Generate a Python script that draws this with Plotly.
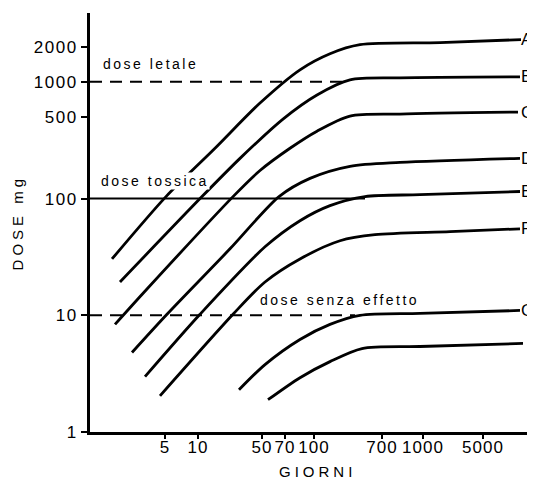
import math
import plotly.graph_objects as go

# ---- axis definitions (hand-drawn, non-uniform time scale) ----
X_TICK_POS = [75, 108, 172, 195, 224, 292, 333, 393]
X_TICK_LABELS = ["5", "10", "50", "70", "100", "700", "1000", "5000"]
Y_TICK_VALS = [1, 10, 100, 500, 1000, 2000]
Y_TICK_LABELS = ["1", "10", "100", "500", "1000", "2000"]

# ---- dose curves (x: position on the GIORNI scale, y: dose in mg) ----
A_X = [22, 76, 125, 170, 210, 240, 270, 350, 431]
A_Y = [30.4, 104, 270, 659, 1269, 1743, 2084, 2169, 2302]
B_X = [30, 112, 150, 193, 227, 260, 310, 430]
B_Y = [19.3, 104, 221, 480, 772, 1040, 1082, 1104]
C_X = [25, 57, 144, 170, 200, 227, 260, 310, 428]
C_Y = [8.36, 16.8, 106, 174, 270, 378, 509, 530, 551]
D_X = [42, 77, 140, 189, 220, 260, 310, 430]
D_Y = [4.80, 10.2, 37.1, 104, 149, 189, 204, 221]
E_X = [55, 110, 175, 210, 240, 275, 330, 430]
E_Y = [2.98, 10.2, 38.6, 64.6, 87.0, 104, 108, 115]
F_X = [70, 143, 175, 210, 250, 285, 360, 430]
F_Y = [2.04, 10.2, 19.3, 30.4, 43.5, 49.0, 52.0, 55.1]
G_X = [149, 175, 210, 240, 270, 330, 430]
G_Y = [2.30, 3.78, 6.21, 8.36, 10.0, 10.4, 11.0]
H_X = [178, 210, 240, 272, 330, 433]
H_Y = [1.89, 2.92, 4.01, 5.19, 5.40, 5.74]

CURVES = [("A", A_X, A_Y), ("B", B_X, B_Y), ("C", C_X, C_Y), ("D", D_X, D_Y),
          ("E", E_X, E_Y), ("F", F_X, F_Y), ("G", G_X, G_Y), ("", H_X, H_Y)]

# ---- threshold lines ----
LETALE_X = [0, 255]
LETALE_Y = [1000, 1000]
TOSSICA_X = [0, 275]
TOSSICA_Y = [100, 100]
SENZA_X = [0, 265]
SENZA_Y = [10, 10]

X_RANGE = [0, 445]
FONT = "Liberation Sans, Arial, Helvetica, sans-serif"

fig = go.Figure()

fig.add_trace(go.Scatter(x=LETALE_X, y=LETALE_Y, mode="lines",
                         line=dict(color="black", width=2, dash="12px,8px"),
                         showlegend=False, hoverinfo="skip"))
fig.add_trace(go.Scatter(x=TOSSICA_X, y=TOSSICA_Y, mode="lines",
                         line=dict(color="black", width=2),
                         showlegend=False, hoverinfo="skip"))
fig.add_trace(go.Scatter(x=SENZA_X, y=SENZA_Y, mode="lines",
                         line=dict(color="black", width=2, dash="12px,8px"),
                         showlegend=False, hoverinfo="skip"))

for name, xs, ys in CURVES:
    fig.add_trace(go.Scatter(x=xs, y=ys, mode="lines", name=name or "H",
                             line=dict(color="black", width=2.8, shape="spline",
                                       smoothing=0.8),
                             showlegend=False))


def spaced(t, px):
    return f'<span style="letter-spacing:{px}px">{t}</span>'


annotations = []
# threshold labels (white background hides the curves behind them)
for txt, x, ylog in [("dose letale", 12, 3.155), ("dose tossica", 10, 2.147),
                     ("dose senza effetto", 169, 1.129)]:
    annotations.append(dict(x=x, y=ylog, xref="x", yref="y", text=spaced(txt, 2.5),
                            showarrow=False, xanchor="left", yanchor="middle",
                            font=dict(family=FONT, size=14, color="black"),
                            bgcolor="white", borderpad=0))
# curve end labels
for name, xs, ys in CURVES:
    if not name:
        continue
    xp = (430 - X_RANGE[0]) / (X_RANGE[1] - X_RANGE[0])
    annotations.append(dict(x=xp, y=math.log10(ys[-1]), xref="paper", yref="y",
                            text=name, showarrow=False, xanchor="left", yanchor="middle",
                            borderpad=0,
                            font=dict(family=FONT, size=17, color="black")))
# axis titles
annotations.append(dict(x=-0.162, y=0.50, xref="paper", yref="paper",
                        text=spaced("DOSE mg", 4), textangle=-90, showarrow=False,
                        xanchor="center", yanchor="middle",
                        font=dict(family=FONT, size=15, color="black")))
annotations.append(dict(x=227, y=-0.095, xref="x", yref="paper",
                        text=spaced("GIORNI", 4), showarrow=False,
                        xanchor="center", yanchor="middle",
                        font=dict(family=FONT, size=15, color="black")))

# page body has an 8px margin: figure sized so the plot sits like the reference
fig.update_layout(
    width=527, height=475,
    margin=dict(l=82, r=0, t=5, b=51),
    paper_bgcolor="white", plot_bgcolor="white",
    showlegend=False,
    annotations=annotations,
    xaxis=dict(type="linear", range=X_RANGE, showgrid=False, zeroline=False,
               showline=True, linecolor="black", linewidth=3,
               ticks="outside", ticklen=4, tickwidth=2, tickcolor="black",
               tickvals=X_TICK_POS, ticktext=[spaced(t, 1) for t in X_TICK_LABELS],
               ticklabelstandoff=-6,
               tickfont=dict(family=FONT, size=17, color="black")),
    yaxis=dict(type="log", range=[0, 3.59], showgrid=False, zeroline=False,
               showline=True, linecolor="black", linewidth=3,
               ticks="outside", ticklen=6, tickwidth=2, tickcolor="black",
               tickvals=Y_TICK_VALS, ticktext=[spaced(t, 1.5) for t in Y_TICK_LABELS],
               tickfont=dict(family=FONT, size=17, color="black")),
)

fig.write_html("out.html")
